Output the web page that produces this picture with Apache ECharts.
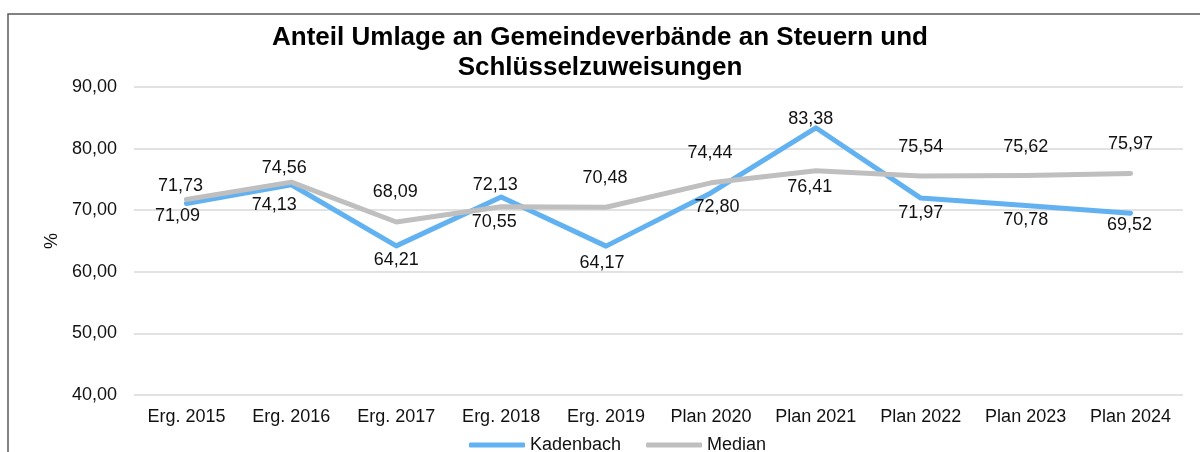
<!DOCTYPE html>
<html>
<head>
<meta http-equiv="Content-Type" content="text/html; charset=utf-8" />
<title>Anteil Umlage an Gemeindeverbände</title>
<style type="text/css">
body,div{margin:0;padding:0;}
#chart{width:1200px;height:452px;}
</style>
<script src="https://cdn.jsdelivr.net/npm/echarts@6/dist/echarts.min.js" type="text/javascript"></script>
</head>
<body>
<div id="chart"></div>
<script type="text/javascript">
// Daten
var categories = ['Erg. 2015', 'Erg. 2016', 'Erg. 2017', 'Erg. 2018', 'Erg. 2019',
                  'Plan 2020', 'Plan 2021', 'Plan 2022', 'Plan 2023', 'Plan 2024'];
var kadenbach = [71.09, 74.13, 64.21, 72.13, 64.17, 72.80, 83.38, 71.97, 70.78, 69.52];
var median    = [71.73, 74.56, 68.09, 70.55, 70.48, 74.44, 76.41, 75.54, 75.62, 75.97];
var yTicks = [40, 50, 60, 70, 80, 90];

// Lage der Datenbeschriftungen (px, relativ zum Punkt)
var kadenbachLabelOffsets = [[-9, 13], [-17, 20], [0, 14], [-6, -12], [-4, 17],
                             [6, 14], [-5, -9], [0, 15], [0, 15], [-1, 12]];
var medianLabelOffsets = [[-6, -14], [-7, -14], [-1, -30], [-7, 15], [-1, -29],
                          [-1, -30], [-6, 16], [0, -29], [0, -29], [0, -29]];

var FONT = "'Liberation Sans', Arial, sans-serif";

function fmt(v) {
    return v.toFixed(2).replace('.', ',');
}

function withLabels(values, offsets) {
    return values.map(function (v, i) {
        return { value: v, label: { offset: offsets[i] } };
    });
}

var myChart = echarts.init(document.getElementById('chart'));
var option = {
    animation: false,
    backgroundColor: '#ffffff',
    textStyle: { fontFamily: FONT },
    title: {
        text: 'Anteil Umlage an Gemeindeverbände an Steuern und\nSchlüsselzuweisungen',
        left: 'center',
        top: 23,
        padding: [0, 0, 0, 20],
        textStyle: {
            fontFamily: FONT,
            fontSize: 26,
            fontWeight: 'bold',
            lineHeight: 30,
            color: '#000'
        }
    },
    legend: {
        left: 464,
        top: 431,
        itemWidth: 56,
        itemHeight: 5,
        itemGap: 25,
        icon: 'roundRect',
        textStyle: { fontFamily: FONT, fontSize: 18, color: '#111' },
        data: ['Kadenbach', 'Median']
    },
    grid: { left: 134, right: 17, top: 87, bottom: 57 },
    xAxis: {
        type: 'category',
        data: categories,
        boundaryGap: true,
        axisLine: { show: false },
        axisTick: { show: false },
        axisLabel: { fontFamily: FONT, fontSize: 18, color: '#111', margin: 13, interval: 0 }
    },
    yAxis: {
        type: 'value',
        min: yTicks[0],
        max: yTicks[yTicks.length - 1],
        interval: 10,
        name: '%',
        nameLocation: 'middle',
        nameGap: 73,
        nameRotate: 90,
        nameTextStyle: { fontFamily: FONT, fontSize: 18, color: '#111' },
        axisLine: { show: false },
        axisTick: { show: false },
        axisLabel: {
            fontFamily: FONT, fontSize: 18, color: '#111', margin: 17,
            formatter: function (v) { return fmt(v); }
        },
        splitLine: { lineStyle: { color: '#d9d9d9', width: 1.5 } }
    },
    graphic: [{
        type: 'rect',
        shape: { x: 8, y: 14, width: 1400, height: 700 },
        style: { fill: 'none', stroke: '#595959', lineWidth: 1.5 },
        silent: true
    }],
    series: [
        {
            name: 'Kadenbach',
            type: 'line',
            data: withLabels(kadenbach, kadenbachLabelOffsets),
            symbol: 'circle',
            symbolSize: 1,
            color: '#62b2f2',
            lineStyle: { width: 5, cap: 'round', join: 'round' },
            label: {
                show: true, position: 'inside',
                fontFamily: FONT, fontSize: 18, color: '#111',
                formatter: function (p) { return fmt(p.value); }
            }
        },
        {
            name: 'Median',
            type: 'line',
            data: withLabels(median, medianLabelOffsets),
            symbol: 'circle',
            symbolSize: 1,
            color: '#bfbfbf',
            lineStyle: { width: 5, cap: 'round', join: 'round' },
            label: {
                show: true, position: 'inside',
                fontFamily: FONT, fontSize: 18, color: '#111',
                formatter: function (p) { return fmt(p.value); }
            }
        }
    ]
};
myChart.setOption(option);
</script>
</body>
</html>
